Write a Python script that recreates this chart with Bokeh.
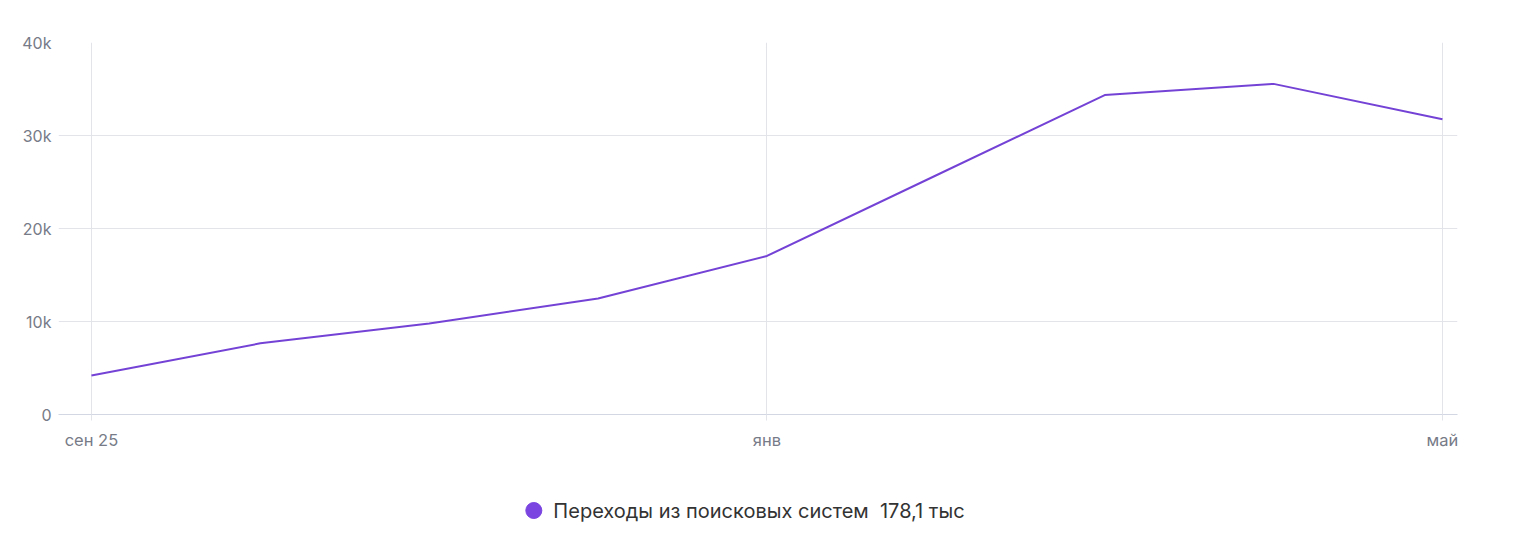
from bokeh.plotting import figure
from bokeh.models import ColumnDataSource, FixedTicker, Range1d, CustomJSTickFormatter
from bokeh.layouts import column
from bokeh.core.properties import value
from bokeh.embed import file_html
from bokeh.resources import INLINE

months = ["сен 25", "окт", "ноя", "дек", "янв", "фев", "мар", "апр", "май"]
visits = [4200, 7650, 9780, 12480, 17050, 25700, 34350, 35550, 31750]
tick_positions = [0, 4, 8]
tick_labels = {0: "сен 25", 4: "янв", 8: "май"}
y_ticks = [0, 10000, 20000, 30000, 40000]
series_name = "Переходы из поисковых систем"
total_label = "178,1 тыс"

LINE = "#7443d6"
DOT = "#7a45e0"
GRID = "#e3e4ea"
TEXT = "#777b88"
FONT = "Inter"

src = ColumnDataSource(dict(x=list(range(len(months))), y=visits, m=months))

p = figure(width=1504, height=458, output_backend="svg", toolbar_location=None,
           x_range=Range1d(-0.195, 8.089), y_range=Range1d(0, 40000),
           min_border_left=58, min_border_right=47, min_border_top=42, min_border_bottom=44)
p.outline_line_color = None
p.background_fill_color = "white"
p.border_fill_color = "white"

p.line("x", "y", source=src, line_color=LINE, line_width=2)

xa = p.xaxis[0]
xa.ticker = FixedTicker(ticks=tick_positions)
xa.major_label_overrides = tick_labels
xa.axis_line_color = "#d3d6e3"
xa.axis_line_width = 1
xa.major_tick_out = 6
xa.major_tick_in = 0
xa.major_tick_line_color = GRID
xa.minor_tick_line_color = None
xa.major_label_standoff = 9
xa.major_label_text_font = FONT
xa.major_label_text_font_size = "16.5px"
xa.major_label_text_color = TEXT

ya = p.yaxis[0]
ya.ticker = FixedTicker(ticks=y_ticks)
ya.formatter = CustomJSTickFormatter(code="return tick == 0 ? '0' : (tick/1000) + 'k';")
ya.axis_line_color = None
ya.major_tick_line_color = None
ya.minor_tick_line_color = None
ya.major_tick_out = 0
ya.major_label_standoff = 7
ya.major_label_text_font = FONT
ya.major_label_text_font_size = "16px"
ya.major_label_text_color = TEXT

p.xgrid.ticker = FixedTicker(ticks=tick_positions)
p.xgrid.grid_line_color = GRID
p.ygrid.ticker = FixedTicker(ticks=y_ticks)
p.ygrid.grid_line_color = GRID

# legend strip
lg = figure(width=1504, height=83, output_backend="svg", toolbar_location=None,
            x_range=Range1d(21, 1525), y_range=Range1d(0, 83),
            x_axis_type=None, y_axis_type=None,
            min_border_left=0, min_border_right=0, min_border_top=0, min_border_bottom=0)
lg.grid.visible = False
lg.outline_line_color = None
lg.scatter(x=[532], y=[31], size=16, marker="circle", fill_color=DOT, line_color=DOT)
lg.text(x=[553], y=[31], text=[series_name + "\u00a0\u00a0" + total_label],
        text_font=value(FONT), text_font_size="20px", text_color="#333333",
        text_baseline="middle", text_align="left")

layout = column(p, lg, spacing=0)
open("out.html", "w").write(file_html(layout, INLINE))
